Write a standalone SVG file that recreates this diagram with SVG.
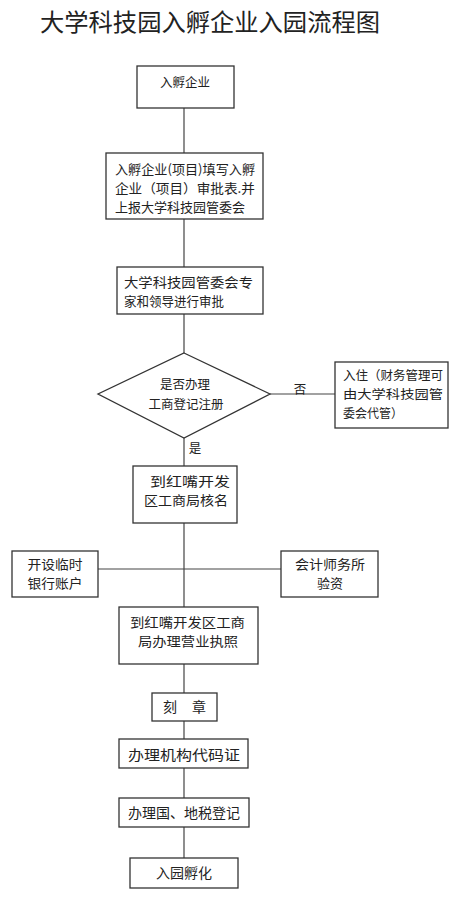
<svg xmlns="http://www.w3.org/2000/svg" width="462" height="900" viewBox="0 0 462 900">
<style>
.box{fill:#fff;stroke:#333;stroke-width:1.3}
.ln{stroke:#444;stroke-width:1.2;fill:none}
text{font-family:"Noto Sans CJK SC","Noto Sans",sans-serif;fill:#222;font-size:14px}
.c{text-anchor:middle}
.s{font-size:12.5px}
.m{font-size:13px}
</style>
<rect width="462" height="900" fill="#fff"/>
<text x="40" y="31" textLength="340" lengthAdjust="spacingAndGlyphs" style="font-size:24px">大学科技园入孵企业入园流程图</text>
<g id="connectors">
<line class="ln" x1="184" y1="108" x2="184" y2="153"/>
<line class="ln" x1="184" y1="219" x2="184" y2="267"/>
<line class="ln" x1="184" y1="314" x2="184" y2="353"/>
<line class="ln" x1="270" y1="394" x2="335" y2="394"/>
<line class="ln" x1="184" y1="438" x2="184" y2="466"/>
<line class="ln" x1="184" y1="523" x2="184" y2="607"/>
<line class="ln" x1="98" y1="569" x2="281" y2="569"/>
<line class="ln" x1="184" y1="664" x2="184" y2="693"/>
<line class="ln" x1="184" y1="721" x2="184" y2="739"/>
<line class="ln" x1="184" y1="768" x2="184" y2="798"/>
<line class="ln" x1="184" y1="827" x2="184" y2="858"/>
<text x="300" y="394" class="c s">否</text>
<text x="195" y="453" class="c s">是</text>
</g>
<g id="n1">
<rect class="box" x="137" y="66" width="97" height="42"/>
<text x="185" y="87" class="c s">入孵企业</text>
</g>
<g id="n2">
<rect class="box" x="106" y="153" width="157" height="66"/>
<text x="115" y="174" class="m" textLength="140" lengthAdjust="spacingAndGlyphs">入孵企业(项目)填写入孵</text>
<text x="115" y="193" class="m" textLength="140" lengthAdjust="spacingAndGlyphs">企业（项目）审批表.并</text>
<text x="115" y="212" class="m" textLength="130" lengthAdjust="spacingAndGlyphs">上报大学科技园管委会</text>
</g>
<g id="n3">
<rect class="box" x="117" y="267" width="146" height="47"/>
<text x="124" y="287" class="m" textLength="129" lengthAdjust="spacingAndGlyphs">大学科技园管委会专</text>
<text x="124" y="306" class="m" textLength="100" lengthAdjust="spacingAndGlyphs">家和领导进行审批</text>
</g>
<g id="n4">
<polygon class="box" points="184,353 270,394 184,438 98,394"/>
<text x="185" y="389" class="c s">是否办理</text>
<text x="186" y="409" class="c s">工商登记注册</text>
</g>
<g id="n5">
<rect class="box" x="335" y="362" width="113" height="66"/>
<text x="343" y="380" textLength="100" lengthAdjust="spacingAndGlyphs" class="s">入住（财务管理可</text>
<text x="343" y="399" textLength="100" lengthAdjust="spacingAndGlyphs" class="s">由大学科技园管</text>
<text x="343" y="418" textLength="60" lengthAdjust="spacingAndGlyphs" class="s">委会代管）</text>
</g>
<g id="n6">
<rect class="box" x="133" y="466" width="104" height="57"/>
<text x="150" y="486" class="m" textLength="80" lengthAdjust="spacingAndGlyphs">到红嘴开发</text>
<text x="144" y="505" class="m" textLength="84" lengthAdjust="spacingAndGlyphs">区工商局核名</text>
</g>
<g id="n7">
<rect class="box" x="12" y="551" width="86" height="46"/>
<text x="55" y="569" class="c m" textLength="55" lengthAdjust="spacingAndGlyphs">开设临时</text>
<text x="55" y="588" class="c m" textLength="55" lengthAdjust="spacingAndGlyphs">银行账户</text>
</g>
<g id="n8">
<rect class="box" x="281" y="551" width="97" height="46"/>
<text x="330" y="569" class="c m" textLength="70" lengthAdjust="spacingAndGlyphs">会计师务所</text>
<text x="330" y="588" class="c m">验资</text>
</g>
<g id="n9">
<rect class="box" x="119" y="607" width="139" height="57"/>
<text x="130" y="627" class="m" textLength="115" lengthAdjust="spacingAndGlyphs">到红嘴开发区工商</text>
<text x="138" y="646" class="m" textLength="100" lengthAdjust="spacingAndGlyphs">局办理营业执照</text>
</g>
<g id="n10">
<rect class="box" x="152" y="693" width="65" height="28"/>
<text x="163" y="712">刻</text>
<text x="192" y="712">章</text>
</g>
<g id="n11">
<rect class="box" x="119" y="739" width="129" height="29"/>
<text x="128" y="760" textLength="112" lengthAdjust="spacingAndGlyphs">办理机构代码证</text>
</g>
<g id="n12">
<rect class="box" x="119" y="798" width="130" height="29"/>
<text x="128" y="818" textLength="112" lengthAdjust="spacingAndGlyphs">办理国、地税登记</text>
</g>
<g id="n13">
<rect class="box" x="130" y="858" width="108" height="30"/>
<text x="184" y="878" class="c">入园孵化</text>
</g>
</svg>
